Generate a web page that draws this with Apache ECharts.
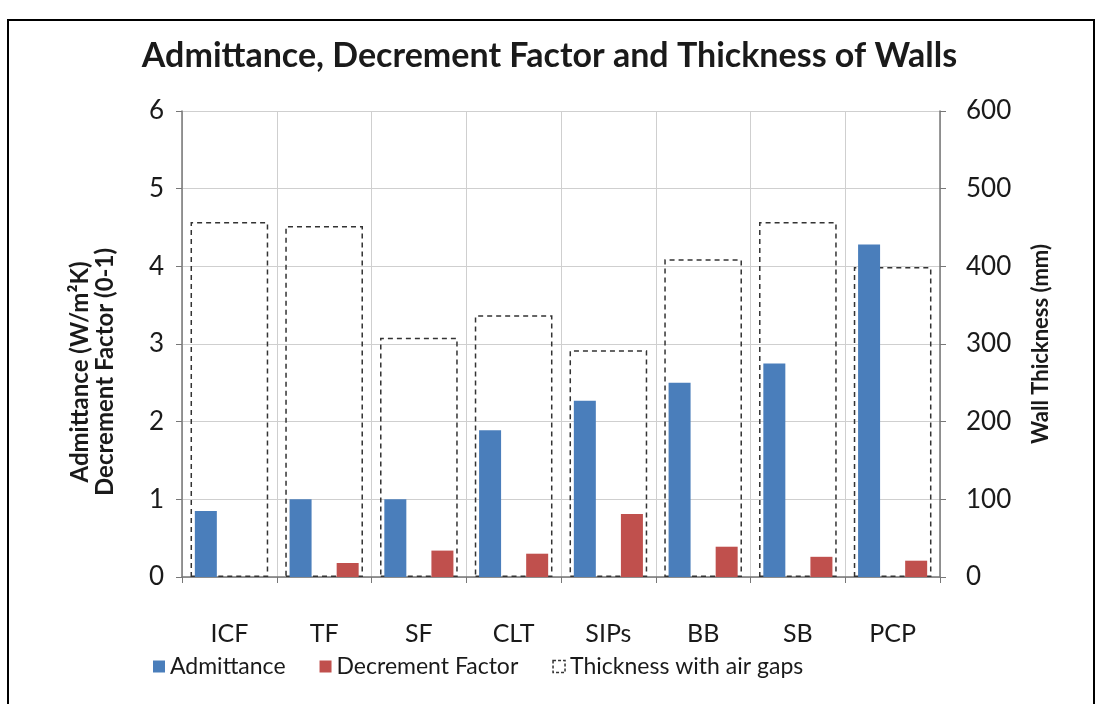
<!DOCTYPE html>
<html>
<head>
<meta charset="utf-8">
<script src="https://cdn.jsdelivr.net/npm/echarts@6/dist/echarts.min.js"></script>
<style>
  html, body { margin: 0; padding: 0; background: #fff; }
  #chart { width: 1099px; height: 704px; }
</style>
</head>
<body>
<div id="chart"></div>
<script>
// chart data
const categories = ['ICF', 'TF', 'SF', 'CLT', 'SIPs', 'BB', 'SB', 'PCP'];
const admittance = [0.85, 1.0, 1.0, 1.89, 2.27, 2.5, 2.75, 4.28];
const decrementFactor = [0, 0.18, 0.34, 0.30, 0.81, 0.39, 0.26, 0.21];
const thickness = [457, 452, 308, 337, 292, 409, 457, 399];
const leftTicks = [0, 1, 2, 3, 4, 5, 6];
const rightTicks = [0, 100, 200, 300, 400, 500, 600];

const font = 'Lato';
const chart = echarts.init(document.getElementById('chart'));

const option = {
    backgroundColor: '#fff',
    animation: false,
    textStyle: { fontFamily: font },
    title: {
        text: 'Admittance, Decrement Factor and Thickness of Walls',
        left: 'center',
        top: 34,
        textStyle: { fontFamily: font, fontSize: 34, fontWeight: 'bold', color: '#1a1a1a' }
    },
    legend: {
        top: 650,
        left: 148,
        itemWidth: 12,
        itemHeight: 12,
        itemGap: 34,
        textStyle: { fontFamily: font, fontSize: 23, color: '#1a1a1a' },
        data: [
            { name: 'Admittance', icon: 'rect' },
            { name: 'Decrement Factor', icon: 'rect' },
            { name: 'Thickness with air gaps', icon: 'rect', itemStyle: { borderType: [3, 2], borderWidth: 1.5 } }
        ]
    },
    grid: { left: 182, right: 159, top: 111, bottom: 127 },
    xAxis: [
        {
            type: 'category',
            data: categories,
            axisLine: { lineStyle: { color: '#777', width: 1.5 } },
            axisTick: { show: true, length: 6, lineStyle: { color: '#777' } },
            axisLabel: { fontFamily: font, fontSize: 25, color: '#1a1a1a', margin: 44 },
            splitLine: { show: true, lineStyle: { color: '#cfcfcf' } }
        },
        {
            type: 'category',
            data: categories,
            show: false
        }
    ],
    yAxis: [
        {
            type: 'value',
            min: leftTicks[0],
            max: leftTicks[leftTicks.length - 1],
            interval: 1,
            name: 'Admittance (W/m²K)\nDecrement Factor (0-1)',
            nameLocation: 'middle',
            nameRotate: 90,
            nameGap: 64,
            nameTextStyle: {
                fontFamily: font, fontSize: 24, fontWeight: 'bold', color: '#1a1a1a',
                lineHeight: 25, padding: [0, 56, 0, 0]
            },
            axisLine: { show: true, lineStyle: { color: '#777', width: 1.5 } },
            axisTick: { show: true, length: 6, lineStyle: { color: '#777' } },
            axisLabel: { fontFamily: font, fontSize: 26, color: '#1a1a1a', margin: 18 },
            splitLine: { show: true, lineStyle: { color: '#cfcfcf' } }
        },
        {
            type: 'value',
            min: rightTicks[0],
            max: rightTicks[rightTicks.length - 1],
            interval: 100,
            name: 'Wall Thickness (mm)',
            nameLocation: 'middle',
            nameRotate: 90,
            nameGap: 90,
            nameTextStyle: { fontFamily: font, fontSize: 22, fontWeight: 'bold', color: '#1a1a1a' },
            axisLine: { show: true, lineStyle: { color: '#777', width: 1.5 } },
            axisTick: { show: true, length: 6, lineStyle: { color: '#777' } },
            axisLabel: { fontFamily: font, fontSize: 26, color: '#1a1a1a', margin: 26 },
            splitLine: { show: false }
        }
    ],
    series: [
        {
            name: 'Thickness with air gaps',
            type: 'bar',
            xAxisIndex: 1,
            yAxisIndex: 1,
            barWidth: '82%',
            data: thickness,
            z: 1,
            itemStyle: {
                color: 'rgba(255,255,255,0)',
                borderColor: '#333',
                borderWidth: 1.5,
                borderType: [5, 4]
            }
        },
        {
            name: 'Admittance',
            type: 'bar',
            barWidth: 22,
            barGap: '114%',
            data: admittance,
            z: 2,
            itemStyle: { color: '#4a7ebb' }
        },
        {
            name: 'Decrement Factor',
            type: 'bar',
            barWidth: 22,
            data: decrementFactor,
            z: 2,
            itemStyle: { color: '#c0504d' }
        }
    ],
    graphic: [
        {
            type: 'rect',
            shape: { x: 8, y: 20, width: 1086, height: 700 },
            style: { fill: 'none', stroke: '#000', lineWidth: 2 },
            silent: true
        }
    ]
};

chart.setOption(option);
</script>
</body>
</html>
